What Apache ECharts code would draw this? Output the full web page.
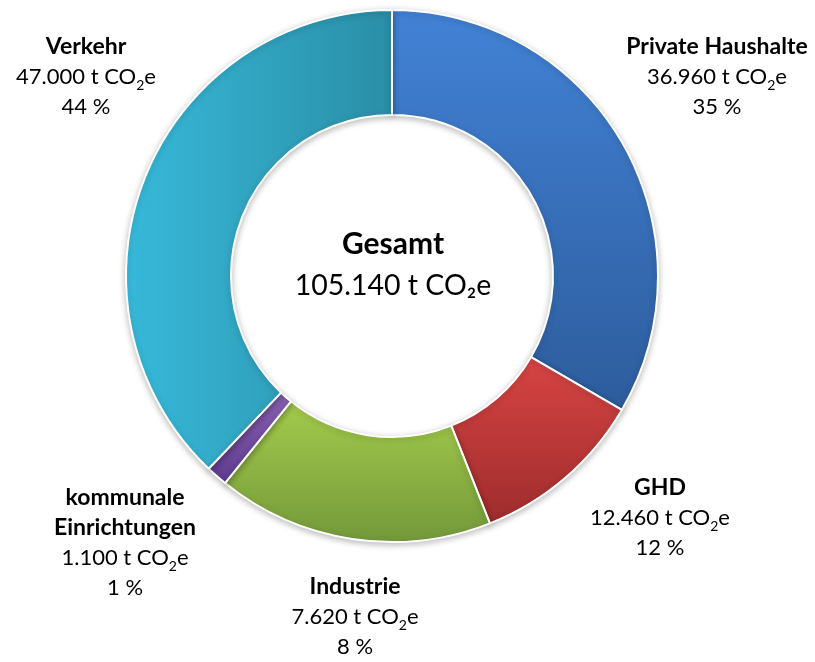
<!DOCTYPE html>
<html>
<head>
<meta charset="utf-8">
<script src="https://cdn.jsdelivr.net/npm/echarts@6/dist/echarts.min.js"></script>
<style>html,body{margin:0;padding:0;background:#fff}#c{width:815px;height:662px}</style>
</head>
<body>
<div id="c"></div>
<script>
// Data
const categories = ['Private Haushalte', 'GHD', 'Industrie', 'kommunale Einrichtungen', 'Verkehr'];
const labelNames = ['Private Haushalte', 'GHD', 'Industrie', 'kommunale\nEinrichtungen', 'Verkehr'];
// values shown in the labels (t CO2e)
const labelValues = [36960, 12460, 7620, 1100, 47000];
const percents = [35, 12, 8, 1, 44];
// slice sizes as drawn in the picture (share of the ring, %)
const sliceShares = [33.4, 10.6, 16.8, 1.3, 37.9];
const totalLabel = '105.140';

// Styles / layout (not data)
const FONT = 'Lato, "Open Sans", sans-serif';
const gradients = [
  ['#4282d6', '#2d5c9c', 'v'],
  ['#d84444', '#9e2c2c', 'v'],
  ['#a4cc4c', '#73983a', 'v'],
  ['#8a62b4', '#5e3a8e', 'v'],
  ['#37b9da', '#2a8ea6', 'h']
];
const labelPos = [[717, 77], [660, 518], [355, 617], [125, 543], [86, 77]];

function fmt(v) {
  return String(v).replace(/\B(?=(\d{3})+(?!\d))/g, '.');
}

const chart = echarts.init(document.getElementById('c'), null, {renderer: 'canvas'});

const data = sliceShares.map((v, i) => {
  const g = gradients[i];
  const color = g[2] === 'h'
    ? new echarts.graphic.LinearGradient(0, 0, 1, 0, [{offset: 0, color: g[0]}, {offset: 1, color: g[1]}])
    : new echarts.graphic.LinearGradient(0, 0, 0, 1, [{offset: 0, color: g[0]}, {offset: 1, color: g[1]}]);
  return {name: categories[i], value: v, itemStyle: {color: color}};
});

chart.setOption({
  animation: false,
  backgroundColor: '#ffffff',
  graphic: [{
    type: 'text',
    x: 393, y: 265,
    style: {
      text: '{b|Gesamt}\n{n|' + totalLabel + ' t CO₂e}',
      align: 'center', verticalAlign: 'middle',
      fill: '#000',
      rich: {
        b: {fontFamily: FONT, fontSize: 30, fontWeight: 'bold', lineHeight: 41, fill: '#000'},
        n: {fontFamily: FONT, fontSize: 28.5, lineHeight: 41, fill: '#000'}
      }
    }
  }],
  series: [{
    type: 'pie',
    center: [392, 276],
    radius: [161, 266],
    startAngle: 90,
    clockwise: true,
    data: data,
    itemStyle: {
      borderColor: '#ffffff',
      borderWidth: 2,
      shadowBlur: 6,
      shadowColor: 'rgba(0,0,0,0.25)',
      shadowOffsetY: 2
    },
    emphasis: {disabled: true},
    labelLine: {show: false},
    label: {
      show: true,
      position: 'outside',
      overflow: 'none',
      color: '#000',
      formatter: function (p) {
        const i = p.dataIndex;
        const nameLines = labelNames[i].split('\n').map(s => '{b|' + s + '}').join('\n');
        return nameLines + '\n{n|' + fmt(labelValues[i]) + ' t CO}{s|2}{n|e}\n{n|' + percents[i] + ' %}';
      },
      rich: {
        b: {fontFamily: FONT, fontSize: 23, fontWeight: 'bold', lineHeight: 30, color: '#000'},
        n: {fontFamily: FONT, fontSize: 22, lineHeight: 30, color: '#000'},
        s: {fontFamily: FONT, fontSize: 14, lineHeight: 10, verticalAlign: 'bottom', color: '#000'}
      }
    },
    labelLayout: function (params) {
      const p = labelPos[params.dataIndex];
      return {x: p[0], y: p[1], align: 'center', verticalAlign: 'middle'};
    }
  }]
});
</script>
</body>
</html>
